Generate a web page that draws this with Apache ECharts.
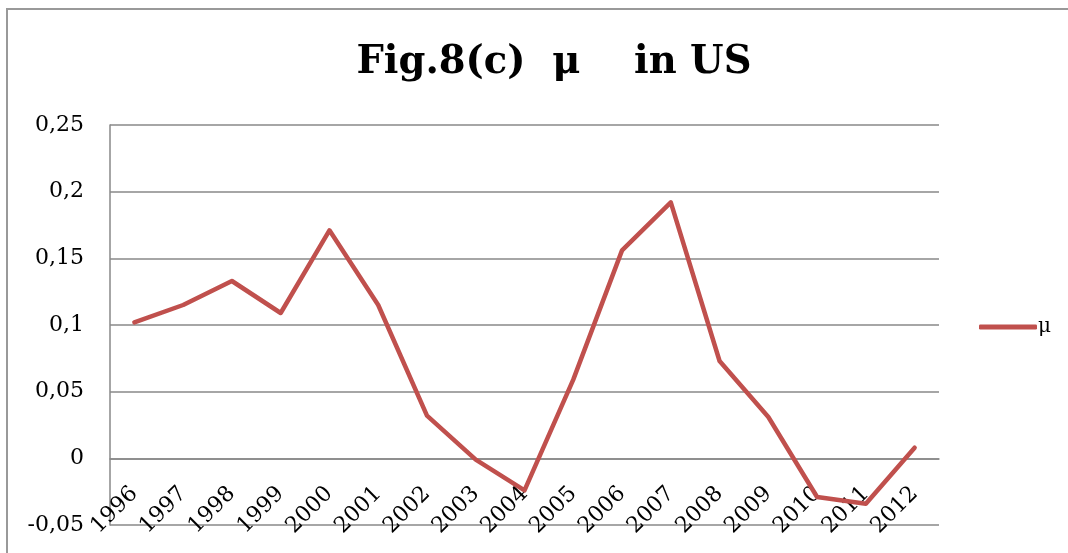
<!DOCTYPE html>
<html>
<head>
<meta charset="utf-8">
<script src="https://cdn.jsdelivr.net/npm/echarts@6/dist/echarts.min.js"></script>
<style>
html,body{margin:0;padding:0;background:#fff;}
#chart{width:1068px;height:553px;}
</style>
</head>
<body>
<div id="chart"></div>
<script>
var titleText = 'Fig.8(c)  \u03bc    in US';
var seriesName = '\u03bc';
var years = ['1996','1997','1998','1999','2000','2001','2002','2003','2004','2005','2006','2007','2008','2009','2010','2011','2012'];
var muValues = [0.102, 0.115, 0.133, 0.109, 0.171, 0.115, 0.032, -0.001, -0.024, 0.059, 0.156, 0.192, 0.073, 0.031, -0.029, -0.034, 0.008];
var yMin = -0.05, yMax = 0.25, yStep = 0.05;

var gridTop = 125, gridBottom = 28, plotH = 553 - gridTop - gridBottom;
var zeroOffset = -plotH * (0 - yMin) / (yMax - yMin);

var chart = echarts.init(document.getElementById('chart'));
var serif = 'DejaVu Serif';
chart.setOption({
  backgroundColor: '#fff',
  animation: false,
  graphic: [{
    type: 'rect',
    shape: {x: 7, y: 9, width: 1200, height: 700},
    style: {fill: 'none', stroke: '#999', lineWidth: 2},
    silent: true
  }],
  title: {
    text: titleText,
    left: 549,
    textAlign: 'center',
    top: 38,
    textStyle: {fontFamily: serif, fontWeight: 'bold', fontSize: 38.5, color: '#000'}
  },
  legend: {
    left: 974,
    top: 312,
    icon: 'roundRect',
    itemWidth: 58,
    itemHeight: 5,
    itemGap: 5,
    data: [seriesName],
    textStyle: {fontFamily: serif, fontSize: 20, color: '#000', padding: [4,0,0,-4]}
  },
  grid: {left: 110, right: 129, top: gridTop, bottom: gridBottom, containLabel: false},
  xAxis: {
    type: 'category',
    data: years,
    boundaryGap: true,
    offset: zeroOffset,
    axisLine: {onZero: false, lineStyle: {color: '#888', width: 1.5}},
    axisTick: {show: false},
    axisLabel: {rotate: 45, margin: 32, fontFamily: serif, fontSize: 22, color: '#000', interval: 0}
  },
  yAxis: {
    type: 'value',
    min: yMin, max: yMax, interval: yStep,
    axisLine: {show: true, lineStyle: {color: '#888', width: 1.5}},
    axisTick: {show: false},
    splitLine: {lineStyle: {color: '#888', width: 1.5}},
    axisLabel: {
      margin: 26, fontFamily: serif, fontSize: 22, color: '#000',
      formatter: function (v) { return String(Math.round(v * 100) / 100).replace('.', ','); }
    }
  },
  series: [{
    name: seriesName,
    type: 'line',
    data: muValues,
    symbol: 'none',
    lineStyle: {color: '#C0504D', width: 4.5, join: 'round', cap: 'round'},
    itemStyle: {color: '#C0504D'}
  }]
});
</script>
</body>
</html>
